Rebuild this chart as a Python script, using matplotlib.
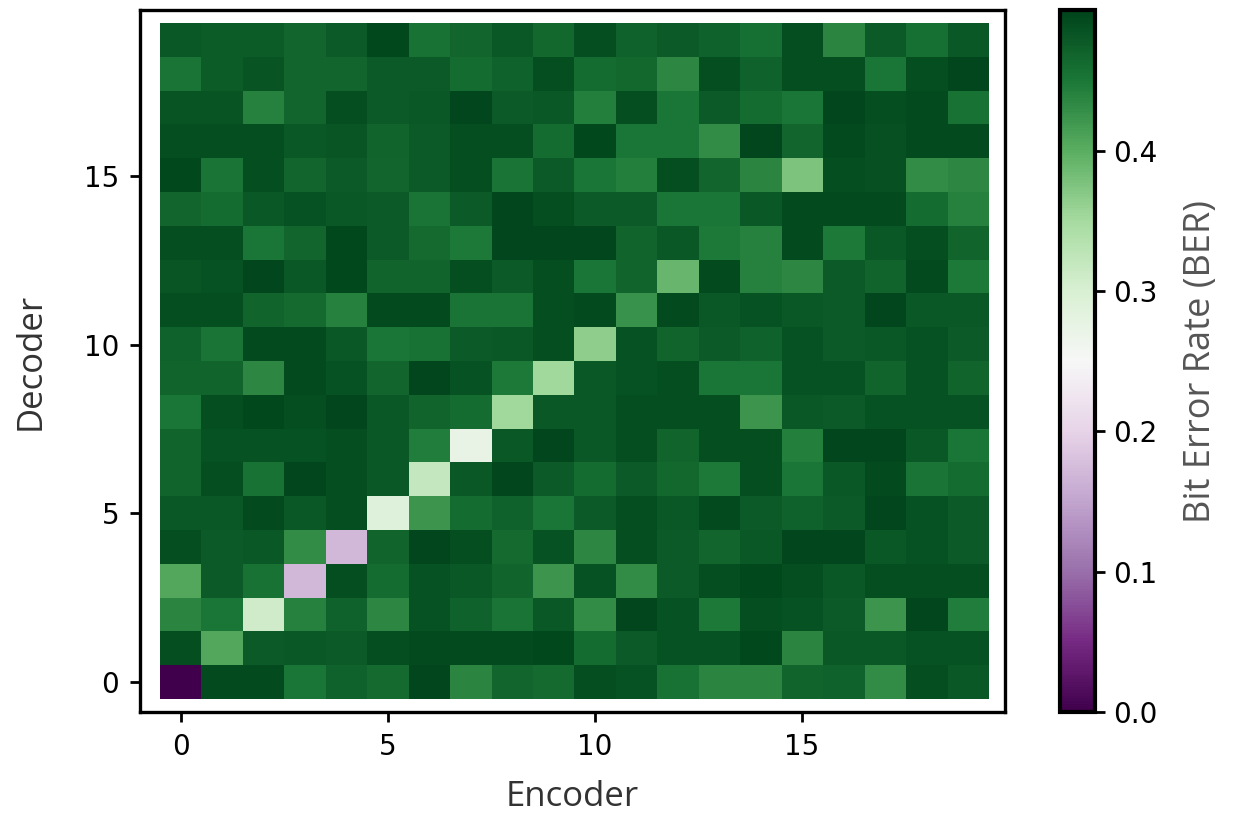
import matplotlib
matplotlib.use("Agg")
import matplotlib.pyplot as plt
import numpy as np

# BER per (decoder row, encoder column); rows listed from decoder 19 down to 0
encoders = list(range(20))
decoders = list(range(20))
ber_rows_top_down = [
    [0.480, 0.475, 0.475, 0.465, 0.477, 0.495, 0.455, 0.465, 0.480, 0.463, 0.490, 0.470, 0.477, 0.470, 0.457, 0.490, 0.437, 0.477, 0.457, 0.480],
    [0.452, 0.475, 0.483, 0.466, 0.466, 0.477, 0.477, 0.460, 0.470, 0.490, 0.460, 0.463, 0.435, 0.490, 0.470, 0.490, 0.490, 0.450, 0.490, 0.497],
    [0.483, 0.483, 0.440, 0.466, 0.490, 0.477, 0.480, 0.497, 0.477, 0.480, 0.443, 0.490, 0.450, 0.477, 0.460, 0.450, 0.497, 0.490, 0.493, 0.455],
    [0.490, 0.490, 0.490, 0.480, 0.482, 0.467, 0.477, 0.490, 0.490, 0.460, 0.495, 0.450, 0.450, 0.430, 0.497, 0.466, 0.493, 0.487, 0.493, 0.493],
    [0.495, 0.452, 0.490, 0.466, 0.477, 0.466, 0.477, 0.490, 0.452, 0.477, 0.450, 0.443, 0.490, 0.466, 0.437, 0.375, 0.490, 0.487, 0.430, 0.435],
    [0.466, 0.460, 0.480, 0.485, 0.480, 0.477, 0.452, 0.477, 0.497, 0.490, 0.477, 0.477, 0.450, 0.450, 0.480, 0.493, 0.493, 0.493, 0.460, 0.440],
    [0.490, 0.490, 0.450, 0.466, 0.495, 0.477, 0.462, 0.448, 0.497, 0.497, 0.497, 0.467, 0.480, 0.448, 0.440, 0.493, 0.448, 0.480, 0.490, 0.467],
    [0.482, 0.485, 0.497, 0.480, 0.495, 0.467, 0.467, 0.490, 0.477, 0.490, 0.450, 0.467, 0.390, 0.493, 0.440, 0.435, 0.477, 0.467, 0.493, 0.448],
    [0.490, 0.490, 0.467, 0.462, 0.440, 0.493, 0.493, 0.452, 0.452, 0.490, 0.493, 0.425, 0.493, 0.480, 0.485, 0.480, 0.477, 0.497, 0.480, 0.480],
    [0.470, 0.452, 0.493, 0.493, 0.480, 0.450, 0.455, 0.477, 0.480, 0.490, 0.365, 0.485, 0.467, 0.477, 0.470, 0.485, 0.477, 0.480, 0.485, 0.477],
    [0.467, 0.467, 0.435, 0.493, 0.485, 0.465, 0.497, 0.485, 0.448, 0.352, 0.480, 0.485, 0.490, 0.450, 0.450, 0.485, 0.485, 0.467, 0.485, 0.467],
    [0.450, 0.490, 0.495, 0.490, 0.497, 0.480, 0.467, 0.460, 0.352, 0.480, 0.480, 0.490, 0.490, 0.490, 0.422, 0.480, 0.477, 0.485, 0.485, 0.485],
    [0.467, 0.485, 0.485, 0.485, 0.490, 0.480, 0.445, 0.275, 0.480, 0.497, 0.480, 0.490, 0.467, 0.490, 0.490, 0.443, 0.497, 0.497, 0.480, 0.450],
    [0.467, 0.490, 0.455, 0.497, 0.490, 0.480, 0.320, 0.480, 0.497, 0.477, 0.460, 0.477, 0.463, 0.448, 0.490, 0.450, 0.480, 0.493, 0.452, 0.460],
    [0.480, 0.480, 0.493, 0.480, 0.490, 0.290, 0.422, 0.460, 0.470, 0.450, 0.477, 0.490, 0.480, 0.493, 0.477, 0.470, 0.477, 0.497, 0.485, 0.477],
    [0.490, 0.477, 0.480, 0.430, 0.170, 0.467, 0.497, 0.490, 0.462, 0.485, 0.435, 0.490, 0.477, 0.466, 0.480, 0.497, 0.497, 0.480, 0.485, 0.477],
    [0.405, 0.477, 0.455, 0.170, 0.490, 0.460, 0.485, 0.480, 0.467, 0.422, 0.485, 0.430, 0.477, 0.490, 0.495, 0.490, 0.480, 0.490, 0.490, 0.490],
    [0.437, 0.450, 0.310, 0.440, 0.470, 0.435, 0.485, 0.470, 0.452, 0.480, 0.430, 0.497, 0.485, 0.448, 0.490, 0.485, 0.477, 0.422, 0.497, 0.445],
    [0.490, 0.405, 0.477, 0.480, 0.477, 0.490, 0.493, 0.493, 0.493, 0.495, 0.460, 0.477, 0.485, 0.485, 0.495, 0.437, 0.480, 0.480, 0.485, 0.485],
    [0.000, 0.493, 0.493, 0.450, 0.470, 0.462, 0.497, 0.437, 0.465, 0.462, 0.490, 0.485, 0.455, 0.437, 0.437, 0.467, 0.470, 0.430, 0.490, 0.480],
]
ber = np.array(ber_rows_top_down[::-1])

label_font = ["Open Sans", "DejaVu Sans"]

fig = plt.figure(figsize=(12.53, 8.19), dpi=100)
ax = fig.add_axes([0.1117, 0.1306, 0.690, 0.857])
cax = fig.add_axes([0.846, 0.1306, 0.028, 0.857])

im = ax.imshow(ber, cmap="PRGn", vmin=0.0, vmax=0.5, origin="lower",
               aspect="auto", interpolation="nearest",
               extent=(encoders[0] - 0.5, encoders[-1] + 0.5,
                       decoders[0] - 0.5, decoders[-1] + 0.5))
ax.set_xlim(-0.98, 19.9)
ax.set_ylim(-0.88, 19.9)
ax.set_xticks([0, 5, 10, 15])
ax.set_yticks([0, 5, 10, 15])
ax.tick_params(direction="out", length=7, width=2, labelsize=20, pad=8)
for sp in ax.spines.values():
    sp.set_linewidth(2.4)

ax.set_xlabel("Encoder", fontsize=25, family=label_font,
              color="#333333", labelpad=14)
ax.set_ylabel("Decoder", fontsize=25, family=label_font,
              color="#333333", labelpad=26)

cb = fig.colorbar(im, cax=cax)
cb.set_ticks([0.0, 0.1, 0.2, 0.3, 0.4])
cb.ax.yaxis.set_major_formatter(matplotlib.ticker.FormatStrFormatter("%.1f"))
cb.ax.tick_params(length=7, width=2, labelsize=20, pad=6)
cb.outline.set_linewidth(3)
cb.set_label("Bit Error Rate (BER)", fontsize=26,
             family=label_font, color="#555555", labelpad=18)

fig.savefig("out.png", dpi=100)
